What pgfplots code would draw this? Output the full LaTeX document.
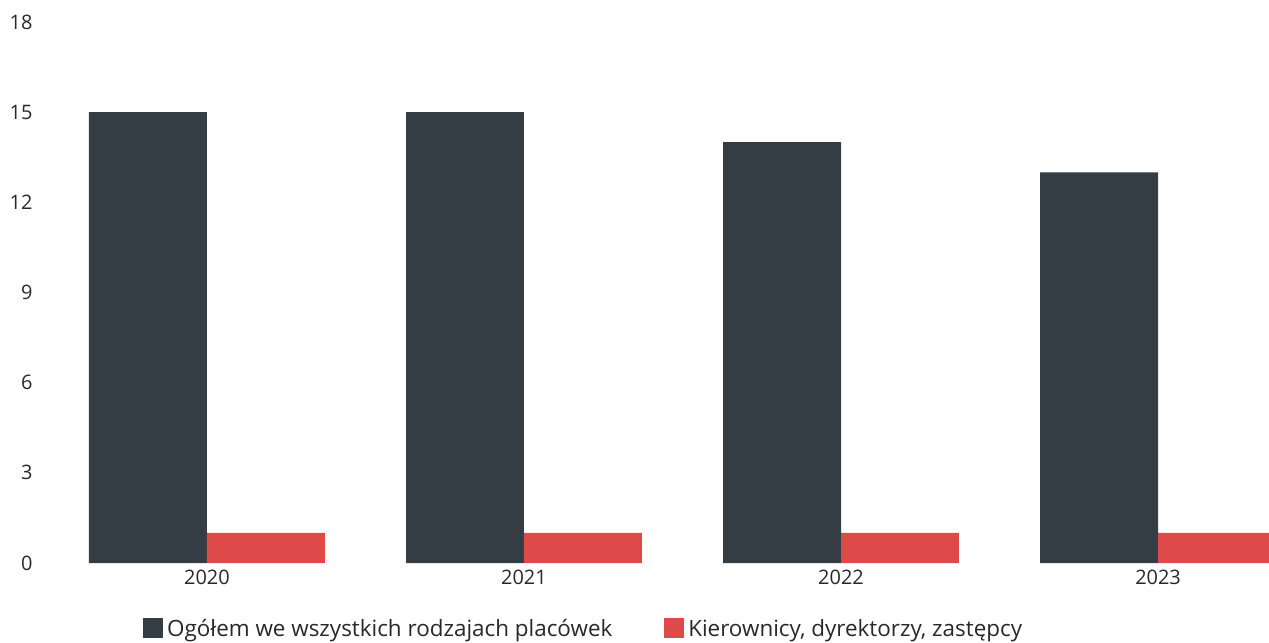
\documentclass[border=0pt]{standalone}
\usepackage{pgfplots}
\pgfplotsset{compat=1.18}
\usepackage{fontspec}
\setmainfont{Open Sans}
\definecolor{darkbar}{RGB}{52,60,68}
\definecolor{redbar}{RGB}{222,74,74}
\definecolor{txt}{RGB}{40,40,40}
\begin{document}
\begin{tikzpicture}[x=1bp,y=1bp]
\begin{axis}[
  scale only axis,
  width=1219bp, height=541bp,
  xmin=-0.495, xmax=3.35,
  ymin=0, ymax=18,
  ytick={0,3,6,9,12,15,18},
  xtick={0,1,2,3},
  xticklabels={2020,2021,2022,2023},
  axis line style={draw=none},
  tick style={draw=none},
  major tick length=0pt,
  font=\fontsize{20}{24}\selectfont,
  tick label style={text=txt},
  yticklabel style={anchor=east, xshift=-14bp},
  xticklabel style={anchor=north, yshift=-4bp},
  /pgf/number format/assume math mode=true,
  legend columns=2,
  legend style={draw=none, fill=none, at={(rel axis cs:0.0738,-0.096)}, anchor=north west,
    font=\fontsize{22.5}{26}\selectfont, text=txt,
    /tikz/every odd column/.append style={column sep=2bp},
    /tikz/every even column/.append style={column sep=50bp}},
  legend image code/.code={\fill[#1] (0bp,-10bp) rectangle (20bp,10bp);},
  legend cell align=left,
]
\addplot[ybar, bar width=0.372, bar shift=-0.186, fill=darkbar, draw=none] coordinates {(0,15) (1,15) (2,14) (3,13)};
\addplot[ybar, bar width=0.372, bar shift=0.186, fill=redbar, draw=none] coordinates {(0,1) (1,1) (2,1) (3,1)};
\legend{Ogółem we wszystkich rodzajach placówek, {Kierownicy, dyrektorzy, zastępcy}}
\end{axis}
\pgfresetboundingbox
\path (current axis.south west) ++(-50bp,-80bp) rectangle ++(1269bp,643bp);
\end{tikzpicture}
\end{document}
